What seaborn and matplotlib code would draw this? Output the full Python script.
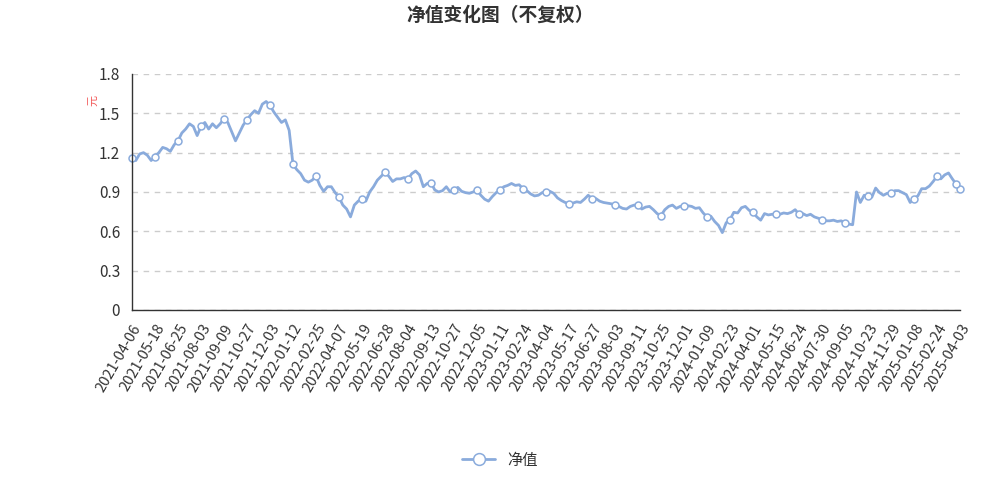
import matplotlib
matplotlib.use("Agg")
import matplotlib.pyplot as plt
import seaborn as sns
import pandas as pd

# tick labels (every 6th point)
tick_dates = ["2021-04-06", "2021-05-18", "2021-06-25", "2021-08-03", "2021-09-09", "2021-10-27",
              "2021-12-03", "2022-01-12", "2022-02-25", "2022-04-07", "2022-05-19", "2022-06-28",
              "2022-08-04", "2022-09-13", "2022-10-27", "2022-12-05", "2023-01-11", "2023-02-24",
              "2023-04-04", "2023-05-17", "2023-06-27", "2023-08-03", "2023-09-11", "2023-10-25",
              "2023-12-01", "2024-01-09", "2024-02-23", "2024-04-01", "2024-05-15", "2024-06-24",
              "2024-07-30", "2024-09-05", "2024-10-23", "2024-11-29", "2025-01-08", "2025-02-24",
              "2025-04-03"]

# net value
nav = [
    1.16, 1.14, 1.19, 1.20, 1.18, 1.14,
    1.17, 1.20, 1.24, 1.23, 1.21, 1.26,
    1.29, 1.35, 1.38, 1.42, 1.40, 1.33,
    1.40, 1.43, 1.38, 1.42, 1.39, 1.42,
    1.46, 1.43, 1.36, 1.29, 1.35, 1.41,
    1.45, 1.49, 1.52, 1.50, 1.57, 1.59,
    1.56, 1.51, 1.47, 1.43, 1.45, 1.37,
    1.11, 1.07, 1.04, 0.99, 0.975, 0.99,
    1.02, 0.95, 0.905, 0.94, 0.94, 0.895,
    0.86, 0.80, 0.77, 0.71, 0.80, 0.83,
    0.85, 0.83, 0.90, 0.94, 0.99, 1.02,
    1.05, 1.02, 0.98, 1.00, 1.00, 1.01,
    1.00, 1.04, 1.06, 1.03, 0.94, 0.965,
    0.97, 0.915, 0.90, 0.91, 0.94, 0.90,
    0.915, 0.935, 0.905, 0.895, 0.89, 0.90,
    0.915, 0.875, 0.845, 0.83, 0.865, 0.895,
    0.915, 0.94, 0.95, 0.965, 0.95, 0.955,
    0.925, 0.91, 0.885, 0.87, 0.875, 0.895,
    0.90, 0.905, 0.89, 0.855, 0.835, 0.82,
    0.81, 0.815, 0.825, 0.82, 0.845, 0.875,
    0.85, 0.85, 0.83, 0.82, 0.815, 0.81,
    0.80, 0.79, 0.775, 0.77, 0.79, 0.80,
    0.80, 0.77, 0.785, 0.79, 0.765, 0.735,
    0.72, 0.765, 0.79, 0.80, 0.775, 0.79,
    0.795, 0.795, 0.79, 0.775, 0.78, 0.74,
    0.71, 0.715, 0.675, 0.645, 0.59, 0.665,
    0.69, 0.745, 0.74, 0.78, 0.79, 0.76,
    0.745, 0.71, 0.685, 0.735, 0.725, 0.73,
    0.73, 0.73, 0.74, 0.735, 0.745, 0.765,
    0.73, 0.735, 0.72, 0.73, 0.71, 0.70,
    0.69, 0.68, 0.68, 0.685, 0.675, 0.68,
    0.665, 0.655, 0.65, 0.90, 0.82, 0.875,
    0.87, 0.86, 0.93, 0.895, 0.875, 0.89,
    0.89, 0.91, 0.91, 0.895, 0.88, 0.82,
    0.85, 0.87, 0.925, 0.925, 0.945, 0.98,
    1.02, 1.00, 1.03, 1.045, 1.00, 0.96,
    0.92,
]
step = 6

sns.set_style("white")
plt.rcParams['font.family'] = ['Noto Sans CJK SC', 'DejaVu Sans']

df = pd.DataFrame({"idx": range(len(nav)), "nav": nav})
line_color = "#8aabdc"

fig = plt.figure(figsize=(10, 4.88), dpi=100)
ax = fig.add_axes([0.132, 0.3648, 0.828, 0.4836])

marks = list(range(0, len(nav), step)) + [len(nav) - 2]
sns.lineplot(data=df, x="idx", y="nav", ax=ax, color=line_color, linewidth=2,
             marker="o", markevery=marks, markersize=5, markerfacecolor="white",
             markeredgecolor=line_color, markeredgewidth=1.1, label="净值", legend=False,
             clip_on=False)

ax.set_xlim(0, len(nav) - 1)
ax.set_ylim(0, 1.8)
ax.set_yticks([0, 0.3, 0.6, 0.9, 1.2, 1.5, 1.8])
ax.set_yticklabels(["0", "0.3", "0.6", "0.9", "1.2", "1.5", "1.8"])
ax.set_xticks(range(0, len(nav), step))
ax.set_xticklabels(tick_dates, rotation=60, ha="right", rotation_mode="anchor")
ax.tick_params(axis="both", colors="#333333", labelsize=11, length=5, direction="out")
ax.tick_params(axis="x", labelsize=10.5)
ax.yaxis.grid(True, linestyle=(0, (4, 4)), color="#cccccc", linewidth=1)
ax.xaxis.grid(False)
for s in ["top", "right"]:
    ax.spines[s].set_visible(False)
for s in ["left", "bottom"]:
    ax.spines[s].set_color("#333333")
    ax.spines[s].set_linewidth(1)
ax.set_xlabel("")
ax.set_ylabel("")

fig.text(0.093, 0.795, "元", color="#f25555", fontsize=8, rotation=90, ha="center", va="center")
fig.suptitle("净值变化图（不复权）", fontsize=13.5, fontweight="bold", color="#333333", y=0.988)

handles, labels = ax.get_legend_handles_labels()
fig.legend(handles, labels, loc="center", bbox_to_anchor=(0.5, 0.057), frameon=False,
           fontsize=11, handlelength=2.2, numpoints=1, markerscale=1.7, labelcolor="#333333")

plt.savefig("out.png")
plt.close()
